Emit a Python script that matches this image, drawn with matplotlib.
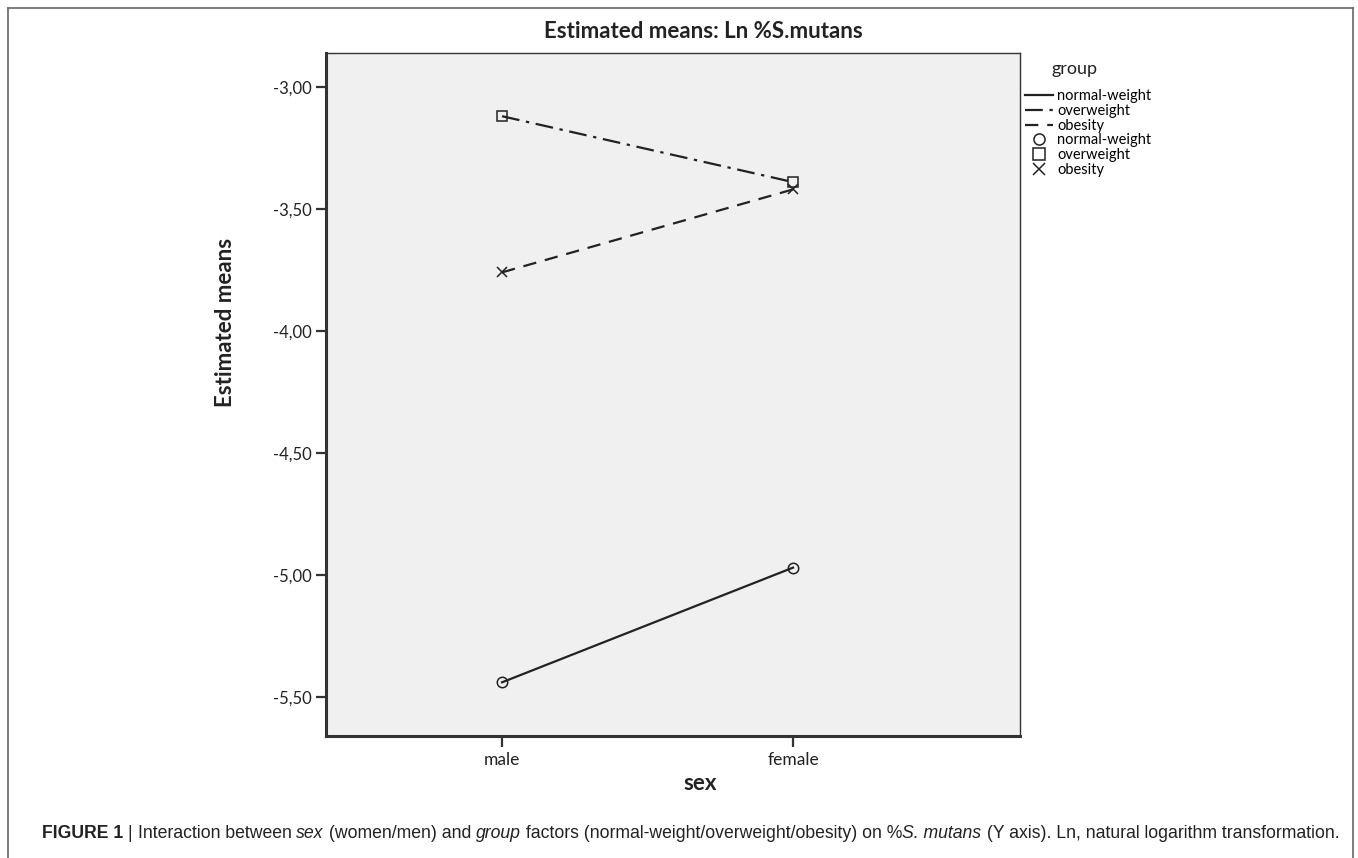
import matplotlib.pyplot as plt
from matplotlib.lines import Line2D
from matplotlib.ticker import FuncFormatter

# estimated means of Ln %S.mutans by sex and group
sexes = ['male', 'female']
groups = ['normal-weight', 'overweight', 'obesity']
normal_weight = [-5.44, -4.97]
overweight = [-3.12, -3.39]
obesity = [-3.76, -3.42]
yticks = [-3.0, -3.5, -4.0, -4.5, -5.0, -5.5]

plt.rcParams['font.family'] = ['Lato', 'DejaVu Sans']

fig = plt.figure(figsize=(13.58, 8.58), dpi=100)
ax = fig.add_axes([326 / 1358, 1 - 736 / 858, (1020 - 326) / 1358, (736 - 53) / 858])
ax.set_facecolor('#f0f0f0')

x = list(range(len(sexes)))
series = [normal_weight, overweight, obesity]
styles = ['-', (0, (8, 3, 1.5, 3)), (0, (6, 4))]
markers = ['o', 's', 'x']
for vals, ls, mk in zip(series, styles, markers):
    ax.plot(x, vals, color='#222222', lw=1.6, linestyle=ls)
    ax.plot(x, vals, linestyle='none', marker=mk, ms=7.5, mfc='none',
            mec='#222222', mew=1.1)

ax.set_xlim(-0.605, 1.78)
ax.set_ylim(-5.66, -2.861)
ax.set_xticks(x)
ax.set_xticklabels(sexes)
ax.set_yticks(yticks)
ax.yaxis.set_major_formatter(FuncFormatter(lambda v, p: f'{v:.2f}'.replace('.', ',')))
ax.tick_params(axis='both', labelsize=12, color='#333333', width=1.6, labelcolor='#222222')
ax.tick_params(axis='y', length=7, direction='out')
ax.tick_params(axis='x', length=8, direction='out', labelsize=12.5)

for side in ['left', 'bottom']:
    ax.spines[side].set_linewidth(2.2)
    ax.spines[side].set_color('#333333')
for side in ['top', 'right']:
    ax.spines[side].set_linewidth(1.0)
    ax.spines[side].set_color('#333333')

fig.text(703 / 1358, 1 - 32 / 858, 'Estimated means: Ln %S.mutans', fontsize=16,
         fontweight='bold', color='#222222', ha='center', va='center')
ax.set_ylabel('Estimated means', fontsize=16, fontweight='bold', color='#222222')
ax.yaxis.set_label_coords((236 - 326) / 694, 1 - (322 - 53) / 683)
ax.set_xlabel('sex', fontsize=16, fontweight='bold', color='#222222')
ax.xaxis.set_label_coords((700 - 326) / 694, -(773 - 736) / 683)

# legend: line styles then markers
handles = [Line2D([], [], color='#222222', lw=1.6, linestyle=ls) for ls in styles]
handles += [Line2D([], [], linestyle='none', marker=mk, ms=8, mfc='none',
                   mec='#222222', mew=1.1) for mk in markers]
fig.legend(handles, groups + groups, loc='upper left',
           bbox_to_anchor=(1018 / 1358, 1 - 82 / 858), frameon=False,
           fontsize=10.5, handlelength=1.9, handletextpad=0.3,
           labelspacing=0.05, borderpad=0)
fig.text(1052 / 1358, 1 - 69 / 858, 'group', fontsize=13, color='#222222',
         ha='left', va='center')

# outer frame of the figure panel
fr = dict(color='#666666', lw=1.2, transform=fig.transFigure)
fig.add_artist(Line2D([8 / 1358, 8 / 1358], [0, 1 - 8 / 858], **fr))
fig.add_artist(Line2D([8 / 1358, 1353 / 1358], [1 - 8 / 858, 1 - 8 / 858], **fr))
fig.add_artist(Line2D([1353 / 1358, 1353 / 1358], [0, 1 - 8 / 858], **fr))

cap_y = 1 - 833 / 858
cap_font = ['Liberation Sans', 'DejaVu Sans']
parts = [('FIGURE 1 ', 'normal', 'bold'), ('| ', 'normal', 'normal'),
         ('Interaction between ', 'normal', 'normal'), ('sex', 'italic', 'normal'),
         (' (women/men) and ', 'normal', 'normal'), ('group', 'italic', 'normal'),
         (' factors (normal-weight/overweight/obesity) on %', 'normal', 'normal'),
         ('S. mutans', 'italic', 'normal'),
         (' (Y axis). Ln, natural logarithm transformation.', 'normal', 'normal')]
fig.canvas.draw()
renderer = fig.canvas.get_renderer()
xpos = 42 / 1358
for txt, style, weight in parts:
    t = fig.text(xpos, cap_y, txt, fontsize=12.7, family=cap_font, style=style,
                 weight=weight, color='#222222', va='center', ha='left')
    bb = t.get_window_extent(renderer=renderer)
    xpos += bb.width / 1358

fig.savefig('out.png', dpi=100)
